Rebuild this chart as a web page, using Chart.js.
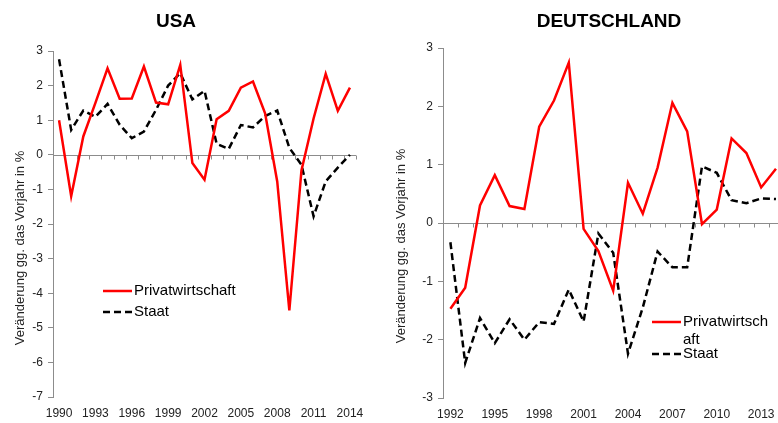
<!DOCTYPE html>
<html>
<head>
<meta charset="utf-8">
<script src="https://cdn.jsdelivr.net/npm/chart.js@4"></script>
<style>
  body { margin: 0; background: #fff; }
  #wrap { position: relative; width: 778px; height: 423px; overflow: hidden; }
  .panel { position: absolute; top: 0; height: 423px; width: 389px; overflow: hidden; }
  .title { position: absolute; top: 11px; font: bold 19px "Liberation Sans", Arial, sans-serif; line-height: 19px; transform: translateX(-50%); white-space: nowrap; }
</style>
</head>
<body>
<div id="wrap">
  <div class="panel" style="left:0">
    <canvas id="usaChart" width="389" height="423"></canvas>
    <div class="title" style="left:176px">USA</div>
  </div>
  <div class="panel" style="left:389px">
    <canvas id="deChart" width="396" height="423"></canvas>
    <div class="title" style="left:220px">DEUTSCHLAND</div>
  </div>
</div>
<script>
const usaYears = ['1990','1991','1992','1993','1994','1995','1996','1997','1998','1999','2000','2001','2002',
  '2003','2004','2005','2006','2007','2008','2009','2010','2011','2012','2013','2014'];
const usaPrivat = [1.0, -1.2, 0.53, 1.5, 2.5, 1.62, 1.63, 2.55, 1.51, 1.46, 2.6, -0.24, -0.72,
  1.03, 1.27, 1.94, 2.12, 1.2, -0.77, -4.5, -0.45, 1.05, 2.34, 1.27, 1.94];
const usaStaat = [2.76, 0.72, 1.28, 1.1, 1.47, 0.87, 0.48, 0.67, 1.3, 2.0, 2.36, 1.6, 1.85,
  0.32, 0.17, 0.86, 0.79, 1.12, 1.28, 0.2, -0.29, -1.78, -0.77, -0.37, 0.0];

const deYears = ['1992','1993','1994','1995','1996','1997','1998','1999','2000','2001','2002','2003',
  '2004','2005','2006','2007','2008','2009','2010','2011','2012','2013','2014'];
const dePrivat = [-1.47, -1.11, 0.30, 0.82, 0.29, 0.24, 1.65, 2.1, 2.75, -0.1, -0.48, -1.16,
  0.69, 0.16, 0.95, 2.06, 1.57, -0.02, 0.23, 1.45, 1.2, 0.61, 0.93];
const deStaat = [-0.33, -2.4, -1.63, -2.06, -1.65, -2.0, -1.7, -1.73, -1.14, -1.69, -0.18, -0.51,
  -2.24, -1.45, -0.49, -0.76, -0.76, 0.97, 0.86, 0.39, 0.34, 0.42, 0.41];

const labelPrivat = 'Privatwirtschaft';
const labelStaat = 'Staat';
const yTitle = 'Veränderung gg. das Vorjahr in %';

const FONT = '"Liberation Sans", Arial, sans-serif';
const GREY = '#8c8c8c';

// wrap a legend label by characters, like the original does
function wrapText(ctx, text, maxW) {
  if (!maxW) return [text];
  const lines = [];
  let cur = '';
  for (const ch of text) {
    if (cur && ctx.measureText(cur + ch).width > maxW) {
      lines.push(cur);
      cur = ch;
    } else {
      cur += ch;
    }
  }
  if (cur) lines.push(cur);
  return lines;
}

const deco = {
  id: 'deco',
  beforeDatasetsDraw(chart) {
    const {ctx, chartArea: a, scales: {x, y}} = chart;
    const y0 = Math.round(y.getPixelForValue(0)) + 0.5;
    const half = (x.getPixelForValue(1) - x.getPixelForValue(0)) / 2;
    ctx.save();
    ctx.strokeStyle = GREY;
    ctx.lineWidth = 1;
    ctx.beginPath();
    ctx.moveTo(a.left, y0);
    ctx.lineTo(a.right, y0);
    for (let i = 0; i <= chart.data.labels.length; i++) {
      const px = Math.round(x.getPixelForValue(i) - half) + 0.5;
      ctx.moveTo(px, y0);
      ctx.lineTo(px, y0 + 4);
    }
    ctx.stroke();
    ctx.restore();
  },
  afterDraw(chart, args, opts) {
    const {ctx, chartArea: a} = chart;
    ctx.save();
    // y axis title
    ctx.font = '13px ' + FONT;
    ctx.fillStyle = '#222';
    ctx.textAlign = 'center';
    ctx.textBaseline = 'middle';
    ctx.translate(opts.titleX, (a.top + a.bottom) / 2 + opts.titleShift);
    ctx.rotate(-Math.PI / 2);
    ctx.fillText(yTitle, 0, 0);
    ctx.restore();

    // legend inside the plot
    ctx.save();
    ctx.font = '15px ' + FONT;
    ctx.textBaseline = 'middle';
    ctx.textAlign = 'left';
    const lx = a.left + opts.legendX;
    let ly = a.top + opts.legendY;
    chart.data.datasets.forEach(ds => {
      ctx.strokeStyle = ds.borderColor;
      ctx.lineWidth = ds.borderWidth;
      ctx.setLineDash(ds.borderDash || []);
      ctx.beginPath();
      ctx.moveTo(lx, ly);
      ctx.lineTo(lx + 29, ly);
      ctx.stroke();
      ctx.setLineDash([]);
      ctx.fillStyle = '#000';
      const lines = wrapText(ctx, ds.label, opts.wrapWidth);
      lines.forEach((t, k) => ctx.fillText(t, lx + 31, ly + k * 18));
      ly += (lines.length - 1) * 18 + opts.rowGap;
    });
    ctx.restore();
  }
};

function buildChart(id, years, privat, staat, cfg) {
  const ctx = document.getElementById(id).getContext('2d');
  return new Chart(ctx, {
    type: 'line',
    data: {
      labels: years,
      datasets: [{
        label: labelPrivat,
        data: privat,
        borderColor: '#ff0000',
        borderWidth: 2.5,
        pointRadius: 0,
        tension: 0
      }, {
        label: labelStaat,
        data: staat,
        borderColor: '#000000',
        borderWidth: 2.5,
        borderDash: [7, 4],
        pointRadius: 0,
        tension: 0
      }]
    },
    options: {
      responsive: false,
      animation: false,
      layout: { padding: cfg.padding },
      plugins: {
        legend: { display: false },
        tooltip: { enabled: false },
        deco: cfg.deco
      },
      scales: {
        x: {
          offset: true,
          grid: { display: false, drawTicks: false, tickLength: 0 },
          border: { display: false },
          ticks: {
            autoSkip: false,
            maxRotation: 0,
            padding: 9,
            color: '#222',
            font: { family: FONT, size: 12 },
            callback: function(v, i) {
              return i % 3 === 0 ? this.getLabelForValue(v) : '';
            }
          },
          afterFit: s => { s.height = 24; }
        },
        y: {
          min: cfg.min,
          max: cfg.max,
          ticks: { stepSize: 1, padding: 5, color: '#222', font: { family: FONT, size: 12 } },
          grid: { drawOnChartArea: false, tickLength: 5, color: GREY },
          border: { color: GREY },
          afterFit: s => { s.width = cfg.axisWidth; }
        }
      }
    },
    plugins: [deco]
  });
}

buildChart('usaChart', usaYears, usaPrivat, usaStaat, {
  min: -7, max: 3, axisWidth: 53,
  padding: { top: 51, right: 33, bottom: 2, left: 0 },
  deco: { titleX: 20, titleShift: 24, legendX: 50, legendY: 240, rowGap: 21, wrapWidth: 0 }
});

buildChart('deChart', deYears, dePrivat, deStaat, {
  min: -3, max: 3, axisWidth: 54,
  padding: { top: 48, right: 1, bottom: 1, left: 0 },
  deco: { titleX: 12, titleShift: 23, legendX: 209, legendY: 274, rowGap: 14, wrapWidth: 88 }
});
</script>
</body>
</html>
